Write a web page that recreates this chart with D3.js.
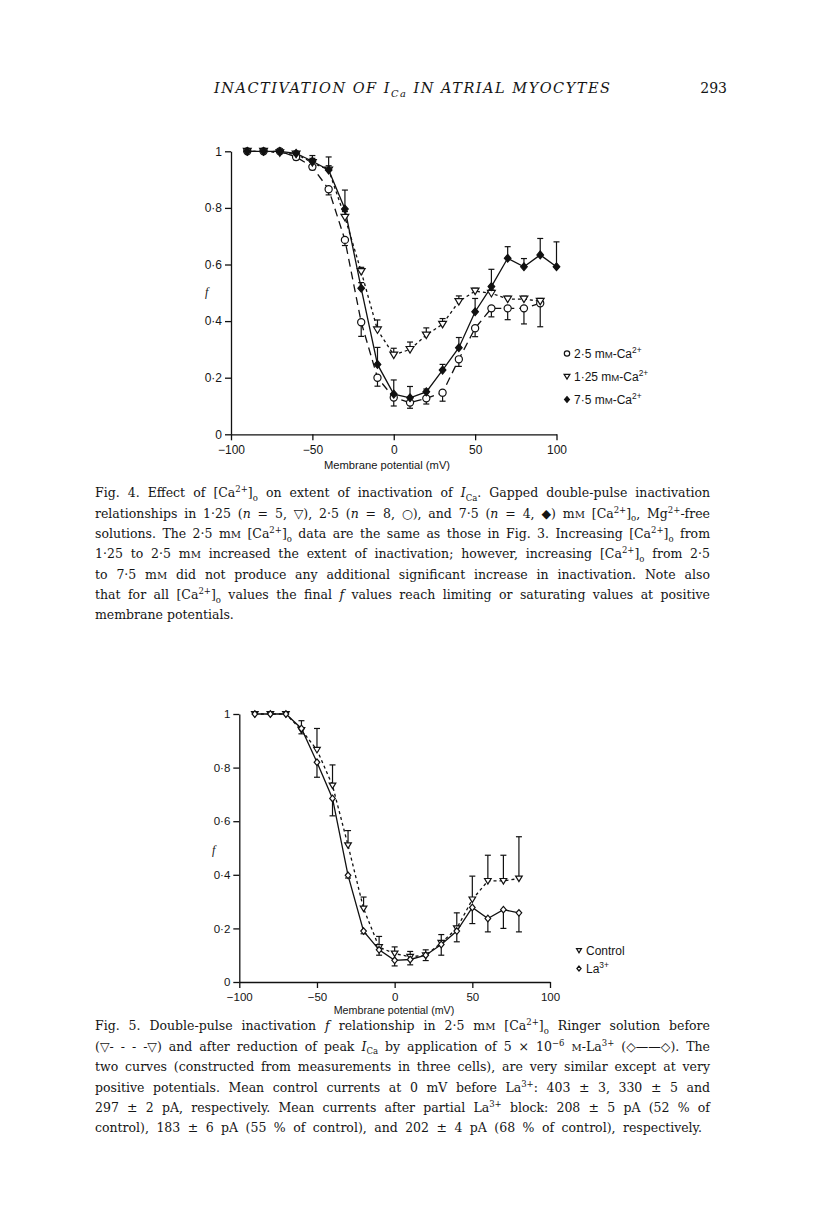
<!DOCTYPE html>
<html><head><meta charset="utf-8">
<script src="https://cdn.jsdelivr.net/npm/d3@7"></script>
<style>
body{margin:0;background:#fff;}
svg text{fill:#151515;}
</style></head><body>
<svg id="page" width="816" height="1219" xmlns="http://www.w3.org/2000/svg"></svg>
<script>
// ---------------- DATA ----------------
const yTicks = [0, 0.2, 0.4, 0.6, 0.8, 1];
const xTicks = [-100, -50, 0, 50, 100];

// Fig. 4
const fig4Voltage = [-90,-80,-70,-60,-50,-40,-30,-20,-10,0,10,20,30,40,50,60,70,80,90];
const fig4Voltage75 = [-90,-80,-70,-60,-50,-40,-30,-20,-10,0,10,20,30,40,50,60,70,80,90,100];
const ca25 = [1.0,1.0,1.0,0.98,0.945,0.866,0.687,0.396,0.20,0.13,0.112,0.127,0.147,0.265,0.375,0.445,0.445,0.445,0.463];
const ca25Err = [0,0,0,0.01,0.01,0.02,0.02,0.05,0.03,0.03,0.02,0.02,0.03,0.025,0.03,0.03,0.04,0.055,0.083];
const ca125 = [1.0,1.0,0.995,0.99,0.96,0.934,0.767,0.575,0.369,0.28,0.30,0.351,0.389,0.469,0.506,0.498,0.478,0.478,0.47];
const ca125Err = [0,0,0,0.01,0.015,0.015,0.02,0.015,0.035,0.024,0.026,0.025,0.02,0.02,0.01,0.012,0.01,0.01,0.01];
const ca75 = [1,1,1,0.993,0.965,0.934,0.796,0.516,0.247,0.142,0.129,0.15,0.227,0.306,0.433,0.522,0.622,0.592,0.634,0.592];
const ca75Err = [0,0,0,0.005,0.02,0.046,0.067,0.02,0.06,0.05,0.04,0.01,0.02,0.036,0.047,0.061,0.041,0.029,0.058,0.088];
const fig4Legend = ["2·5 mM-Ca2+", "1·25 mM-Ca2+", "7·5 mM-Ca2+"];

// Fig. 5
const fig5Voltage = [-90,-80,-70,-60,-50,-40,-30,-20,-10,0,10,20,30,40,50,60,70,80];
const control = [1,1,1,0.94,0.866,0.733,0.51,0.274,0.13,0.106,0.094,0.10,0.146,0.20,0.308,0.377,0.377,0.386];
const controlErr = [0,0,0,0.035,0.08,0.077,0.055,0.043,0.04,0.025,0.02,0.02,0.031,0.058,0.087,0.096,0.096,0.156];
const lanthanum = [1,1,1,0.946,0.82,0.685,0.398,0.19,0.12,0.081,0.084,0.10,0.14,0.19,0.278,0.237,0.27,0.258];
const lanthanumErr = [0,0,0,0.02,0.056,0.065,0.01,0.01,0.02,0.021,0.02,0.02,0.04,0.04,0.06,0.05,0.07,0.071];
const fig5Legend = ["Control", "La3+"];

// ---------------- DRAW ----------------
const svg = d3.select("#page");
const SANS = "'Liberation Sans', Arial, sans-serif";
const SERIF = "'DejaVu Serif', 'Liberation Serif', serif";

function marker(g, type, cx, cy, s) {
  if (type === "circle") {
    g.append("circle").attr("cx", cx).attr("cy", cy).attr("r", s * 0.55)
      .attr("fill", "#fff").attr("stroke", "#111").attr("stroke-width", 1.2);
  } else if (type === "tri") {
    const h = s * 1.0, w = s * 0.6;
    g.append("path").attr("d", `M${cx - w},${cy - h * 0.45}L${cx + w},${cy - h * 0.45}L${cx},${cy + h * 0.55}Z`)
      .attr("fill", "#fff").attr("stroke", "#111").attr("stroke-width", 1.2);
  } else if (type === "diamond" || type === "odiamond") {
    const r = s * 0.6;
    g.append("path").attr("d", `M${cx},${cy - r}L${cx + r * 0.85},${cy}L${cx},${cy + r}L${cx - r * 0.85},${cy}Z`)
      .attr("fill", type === "diamond" ? "#111" : "#fff").attr("stroke", "#111").attr("stroke-width", 1.2);
  }
}

function drawChart(cfg) {
  const g = svg.append("g");
  const x = d3.scaleLinear().domain([-100, 100]).range(cfg.xr);
  const y = d3.scaleLinear().domain([0, 1]).range(cfg.yr);
  const fmt = d => d === 0 ? "0" : d === 1 ? "1" : "0·" + Math.round(d * 10);
  const ax = g.append("g").attr("transform", `translate(${cfg.xr[0]},0)`)
    .call(d3.axisLeft(y).tickValues(yTicks).tickFormat(fmt).tickSize(6).tickSizeOuter(0).tickPadding(3));
  const bx = g.append("g").attr("transform", `translate(0,${cfg.yr[0]})`)
    .call(d3.axisBottom(x).tickValues(xTicks).tickFormat(d => d < 0 ? "−" + Math.abs(d) : d).tickSize(6).tickSizeOuter(0).tickPadding(5));
  [ax, bx].forEach(a => {
    a.attr("font-family", SANS).attr("font-size", cfg.fs);
    a.selectAll("path,line").attr("stroke", "#111").attr("stroke-width", 1.3);
    a.selectAll("text").attr("fill", "#151515");
  });
  g.append("text").attr("x", cfg.titleX).attr("y", cfg.titleY).attr("text-anchor", "middle")
    .attr("font-family", SANS).attr("font-size", cfg.fs - 0.8).text("Membrane potential (mV)");
  g.append("text").attr("x", cfg.fX).attr("y", cfg.fY).attr("font-family", "'Liberation Serif', serif")
    .attr("font-style", "italic").attr("font-size", 12).text("f");

  cfg.series.forEach(s => {
    const pts = s.v.map((v, i) => [s.x[i], v, s.e[i]]);
    g.append("path").datum(pts)
      .attr("d", d3.line().x(d => x(d[0])).y(d => y(d[1])))
      .attr("fill", "none").attr("stroke", "#111").attr("stroke-width", 1.3)
      .attr("stroke-dasharray", s.dash);
    pts.forEach(d => {
      if (d[2] > 0) {
        const y0 = y(d[1]), y1 = y(d[1] + s.dir * d[2]);
        g.append("line").attr("x1", x(d[0])).attr("x2", x(d[0])).attr("y1", y0).attr("y2", y1)
          .attr("stroke", "#111").attr("stroke-width", 1.2);
        g.append("line").attr("x1", x(d[0]) - 3).attr("x2", x(d[0]) + 3).attr("y1", y1).attr("y2", y1)
          .attr("stroke", "#111").attr("stroke-width", 1.2);
      }
    });
  });
  cfg.series.forEach(s => {
    s.v.forEach((v, i) => marker(g, s.m, x(s.x[i]), y(v), cfg.ms));
  });
  // legend
  cfg.legend.forEach((l, i) => {
    const ly = cfg.legY + i * cfg.legDY;
    marker(g, l.m, cfg.legX, ly - 4, cfg.ms * 0.75);
    const t = g.append("text").attr("x", cfg.legX + 7).attr("y", ly)
      .attr("font-family", SANS).attr("font-size", cfg.legFs);
    const m = l.label.match(/^(.*?)(\d\+)$/);
    if (m) {
      const base = m[1];
      const mm = base.split("mM");
      if (mm.length > 1) {
        t.append("tspan").text(mm[0] + "m");
        t.append("tspan").attr("font-size", cfg.legFs * 0.8).text("M");
        t.append("tspan").text(mm[1]);
      } else t.append("tspan").text(base);
      t.append("tspan").attr("font-size", cfg.legFs * 0.7).attr("dy", -4.5).text(m[2]);
    } else t.text(l.label);
  });
}

drawChart({
  xr: [231, 556.5], yr: [434.3, 151.3], fs: 12, ms: 6.5,
  titleX: 387, titleY: 469, fX: 205, fY: 296,
  series: [
    {x: fig4Voltage, v: ca25, e: ca25Err, dir: -1, m: "circle", dash: "8,5"},
    {x: fig4Voltage, v: ca125, e: ca125Err, dir: 1, m: "tri", dash: "3,3"},
    {x: fig4Voltage75, v: ca75, e: ca75Err, dir: 1, m: "diamond", dash: null}
  ],
  legend: [
    {m: "circle", label: fig4Legend[0]},
    {m: "tri", label: fig4Legend[1]},
    {m: "diamond", label: fig4Legend[2]}
  ],
  legX: 567, legY: 357.5, legDY: 23, legFs: 12
});

drawChart({
  xr: [239.3, 550], yr: [982, 714], fs: 11.5, ms: 5.5,
  titleX: 394, titleY: 1014, fX: 212, fY: 854,
  series: [
    {x: fig5Voltage, v: control, e: controlErr, dir: 1, m: "tri", dash: "3,3"},
    {x: fig5Voltage, v: lanthanum, e: lanthanumErr, dir: -1, m: "odiamond", dash: null}
  ],
  legend: [
    {m: "tri", label: fig5Legend[0]},
    {m: "odiamond", label: fig5Legend[1]}
  ],
  legX: 579, legY: 954.5, legDY: 18, legFs: 12
});

// ---------------- TEXT ----------------
function rich(x, y, segs, opt) {
  const fs = opt.fs;
  const t = svg.append("text").attr("x", x).attr("y", y)
    .attr("font-family", opt.family || SERIF).attr("font-size", fs);
  if (opt.italic) t.attr("font-style", "italic");
  if (opt.weight) t.attr("font-weight", opt.weight);
  let cur = 0;
  segs.forEach(s => {
    let txt, off = 0, size = null, it = false;
    if (typeof s === "string") txt = s;
    else if (s.sup !== undefined) { txt = s.sup; off = -0.38; size = 0.68; }
    else if (s.sub !== undefined) { txt = s.sub; off = 0.28; size = 0.68; }
    else if (s.i !== undefined) { txt = s.i; it = true; }
    else if (s.sc !== undefined) { txt = s.sc; size = 0.8; }
    const ts = t.append("tspan").text(txt);
    if (off !== cur) ts.attr("dy", ((off - cur) * fs).toFixed(2));
    cur = off;
    if (size) ts.attr("font-size", fs * size);
    if (it) ts.attr("font-style", "italic");
  });
  if (opt.width) {
    const nat = t.node().getComputedTextLength();
    const str = segs.map(s => typeof s === "string" ? s : Object.values(s)[0]).join("");
    if (opt.letters) {
      const n = str.length - 1;
      t.attr("letter-spacing", ((opt.width - nat) / n).toFixed(3));
    } else {
      const spaces = (str.match(/ /g) || []).length;
      if (spaces > 0) t.attr("word-spacing", ((opt.width - nat) / spaces).toFixed(3));
    }
  }
  return t;
}

rich(214, 93, ["INACTIVATION OF ", {i: "I"}, {sub: "Ca"}, " IN ATRIAL MYOCYTES"], {fs: 14.5, italic: true, width: 396, letters: true, weight: 500});
svg.append("text").attr("x", 727).attr("y", 93).attr("text-anchor", "end")
  .attr("font-family", SERIF).attr("font-size", 14).text("293");

const CAP_L = 95, CAP_W = 615, FS = 12.5;
const cap4 = [
  ["Fig. 4. Effect of [Ca", {sup: "2+"}, "]", {sub: "o"}, " on extent of inactivation of ", {i: "I"}, {sub: "Ca"}, ". Gapped double-pulse inactivation"],
  ["relationships in 1·25 (", {i: "n"}, " = 5, ▽), 2·5 (", {i: "n"}, " = 8, ○), and 7·5 (", {i: "n"}, " = 4, ◆) m", {sc: "M"}, " [Ca", {sup: "2+"}, "]", {sub: "o"}, ", Mg", {sup: "2+"}, "-free"],
  ["solutions. The 2·5 m", {sc: "M"}, " [Ca", {sup: "2+"}, "]", {sub: "o"}, " data are the same as those in Fig. 3. Increasing [Ca", {sup: "2+"}, "]", {sub: "o"}, " from"],
  ["1·25 to 2·5 m", {sc: "M"}, " increased the extent of inactivation; however, increasing [Ca", {sup: "2+"}, "]", {sub: "o"}, " from 2·5"],
  ["to 7·5 m", {sc: "M"}, " did not produce any additional significant increase in inactivation. Note also"],
  ["that for all [Ca", {sup: "2+"}, "]", {sub: "o"}, " values the final ", {i: "f"}, " values reach limiting or saturating values at positive"],
  ["membrane potentials."]
];
const cap4Y = [497, 517.5, 538, 558, 578.5, 599, 619];
cap4.forEach((l, i) => rich(CAP_L, cap4Y[i], l, {fs: FS, width: i < cap4.length - 1 ? CAP_W : null}));

const cap5 = [
  ["Fig. 5. Double-pulse inactivation ", {i: "f"}, " relationship in 2·5 m", {sc: "M"}, " [Ca", {sup: "2+"}, "]", {sub: "o"}, " Ringer solution before"],
  ["(▽- - - -▽) and after reduction of peak ", {i: "I"}, {sub: "Ca"}, " by application of 5 × 10", {sup: "−6"}, " ", {sc: "M"}, "-La", {sup: "3+"}, " (◇——◇). The"],
  ["two curves (constructed from measurements in three cells), are very similar except at very"],
  ["positive potentials. Mean control currents at 0 mV before La", {sup: "3+"}, ": 403 ± 3, 330 ± 5 and"],
  ["297 ± 2 pA, respectively. Mean currents after partial La", {sup: "3+"}, " block: 208 ± 5 pA (52 % of"],
  ["control), 183 ± 6 pA (55 % of control), and 202 ± 4 pA (68 % of control), respectively."]
];
const cap5Y = [1030, 1050.5, 1071, 1091.5, 1112, 1132];
cap5.forEach((l, i) => rich(CAP_L, cap5Y[i], l, {fs: FS, width: i < cap5.length - 1 ? CAP_W : CAP_W - 8}));
</script>
</body></html>
